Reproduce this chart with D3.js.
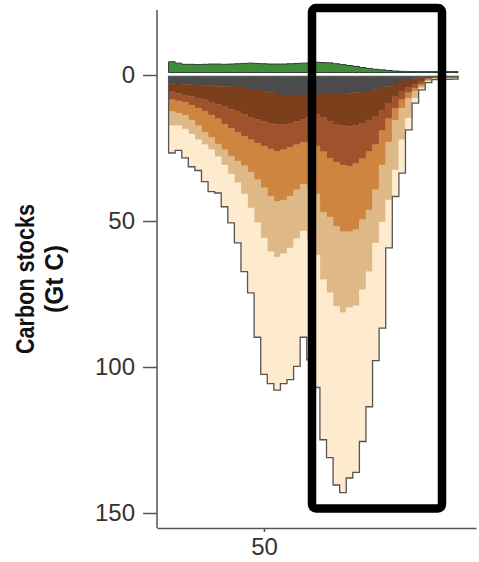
<!DOCTYPE html>
<html>
<head>
<meta charset="utf-8">
<script src="https://cdn.jsdelivr.net/npm/d3@7"></script>
<style>
	body { margin: 0; background: #fff; }
	svg { display: block; }
</style>
</head>
<body>
<div class="wrapper"></div>
<script>

// latitude bins (centres)
var lats = [36, 37, 38, 39, 40, 41, 42, 43, 44, 45, 46, 47, 48, 49, 50, 51, 52, 53, 54, 55, 56, 57,
	58, 59, 60, 61, 62, 63, 64, 65, 66, 67, 68, 69, 70, 71, 72, 73, 74, 75, 76, 77, 78, 79];

// above ground (plotted upward)
var vegetation = [3.7, 3.2, 2.8, 2.8, 2.7, 2.8, 2.9, 2.9, 2.8, 2.9, 3.0, 3.1, 3.2, 3.1, 3.0, 2.9, 2.9, 2.9, 3.0, 3.1,
	3.2, 3.3, 3.5, 3.4, 3.3, 3.0, 2.7, 2.4, 2.1, 1.7, 1.4, 1.1, 0.9, 0.7, 0.5, 0.4, 0.3, 0.3, 0.3, 0.3, 0.3, 0.3, 0.3, 0.3];

// soil layers, top to bottom (plotted downward)
var layer1 = [2.4, 2.6, 2.7, 2.8, 2.9, 3.0, 3.1, 3.3, 3.4, 3.5, 3.6, 3.9, 4.3, 4.6, 5.0, 5.5, 6.0, 6.3, 6.3, 6.3,
	6.3, 6.2, 6.0, 6.0, 6.0, 6.0, 6.0, 5.8, 5.6, 5.3, 5.0, 4.4, 3.9, 3.3, 2.6, 1.9, 1.2, 0.7, 0.3, 0.2, 0.1, 0.1, 0.1, 0.1];
var layer2 = [2.8, 3.2, 3.6, 4.0, 4.5, 5.0, 5.6, 6.3, 7.0, 7.8, 8.5, 9.1, 9.6, 10.1, 10.4, 10.6, 10.4, 10.0, 9.6, 9.1,
	8.4, 7.3, 6.8, 7.9, 9.2, 10.3, 10.9, 11.3, 11.2, 10.6, 9.9, 9.1, 7.6, 5.8, 4.1, 3.1, 2.6, 2.0, 1.2, 0.5, 0.2, 0.1, 0.1, 0.1];
var layer3 = [2.8, 2.6, 2.6, 3.0, 3.4, 3.8, 4.5, 4.9, 5.9, 6.5, 7.1, 7.5, 7.8, 8.2, 8.4, 8.7, 9.3, 8.8, 8.4, 8.0,
	7.9, 8.9, 11.0, 11.9, 12.7, 13.0, 13.4, 13.7, 13.1, 12.3, 10.9, 9.9, 7.1, 5.4, 4.1, 3.0, 1.8, 1.2, 1.1, 0.3, 0.2, 0.1, 0.1, 0.1];
var layer4 = [4.0, 4.1, 4.4, 5.1, 6.1, 7.2, 7.7, 8.6, 8.8, 9.4, 9.7, 10.1, 11.0, 12.5, 14.3, 16.1, 17.1, 17.2, 16.6, 15.4,
	14.2, 15.1, 16.4, 20.6, 20.2, 22.1, 22.9, 22.4, 22.6, 20.9, 19.9, 15.4, 11.7, 7.9, 4.1, 2.8, 1.8, 1.1, 0.7, 0.4, 0.2, 0.3, 0.3, 0.3];
var layer5 = [4.9, 4.4, 4.7, 4.8, 4.8, 4.4, 4.2, 4.4, 5.2, 6.2, 7.5, 9.6, 12.3, 14.7, 17.2, 19.1, 19.0, 18.4, 17.8, 16.8,
	16.1, 18.5, 20.9, 23.2, 26.0, 27.4, 27.7, 26.0, 26.0, 23.9, 21.2, 18.2, 19.5, 19.9, 17.1, 10.9, 6.8, 2.4, 0.6, 0.3, 0.2, 0.2, 0.2, 0.2];
var layer6 = [9.3, 8.4, 9.9, 11.2, 10.5, 12.6, 14.3, 12.4, 14.3, 16.7, 20.6, 26.6, 29.1, 39.2, 46.7, 45.2, 45.6, 44.5, 45.1, 43.7,
	36.4, 41.0, 45.4, 54.8, 56.4, 61.1, 61.6, 58.3, 57.1, 52.0, 46.2, 40.3, 36.4, 16.4, 9.1, 11.4, 4.1, 1.7, 0.7, 0.4, 0.2, 0.2, 0.2, 0.1];

var layerKeys = ["layer1", "layer2", "layer3", "layer4", "layer5", "layer6"];
var layerColors = ["#4b4b4b", "#7b3f1b", "#a0522d", "#cd853f", "#deb887", "#feeacc"];

var yTicks = [0, 50, 100, 150];
var xTicks = [50];

var WIDTH = 479,
	HEIGHT = 562,
	SOIL_SHIFT = 1.5,
	VEG_SHIFT = -2.5;

var svg = d3.select(".wrapper")
	.append("svg")
		.attr("width", WIDTH)
		.attr("height", HEIGHT);

var x = d3.scaleLinear().domain([33.74, 82.22]).range([157, 476]);
var y = d3.scaleLinear().domain([0, 150]).range([75, 513]);

var rows = lats.map(function(lat, i) {
	return {
		lat: lat, layer1: layer1[i], layer2: layer2[i], layer3: layer3[i],
		layer4: layer4[i], layer5: layer5[i], layer6: layer6[i]
	};
});

var series = d3.stack().keys(layerKeys)(rows);

// turn bins into step points: left edge of each bin, plus the right edge of the last
function steps(list) {
	var pts = list.map(function(d) { return {x: d.lat - 0.5, y0: d.y0, y1: d.y1}; });
	var last = list[list.length - 1];
	pts.push({x: last.lat + 0.5, y0: last.y0, y1: last.y1});
	return pts;
}

var area = d3.area()
	.curve(d3.curveStepAfter)
	.x(function(d) { return x(d.x); })
	.y0(function(d) { return y(d.y0); })
	.y1(function(d) { return y(d.y1); });

// soil
var soil = svg.append("g").attr("transform", "translate(0," + SOIL_SHIFT + ")");

soil.selectAll("path.layer")
	.data(series)
	.enter()
	.append("path")
		.attr("class", "layer")
		.attr("fill", function(d, i) { return layerColors[i]; })
		.attr("stroke", function(d, i) { return layerColors[i]; })
		.attr("stroke-width", 0.4)
		.attr("d", function(s) {
			return area(steps(s.map(function(d, i) {
				return {lat: lats[i], y0: d[0], y1: d[1]};
			})));
		});

var deepest = series[series.length - 1];
soil.append("path")
	.attr("fill", "none")
	.attr("stroke", "#555")
	.attr("stroke-width", 1.3)
	.attr("d", area(steps(deepest.map(function(d, i) {
		return {lat: lats[i], y0: 0, y1: d[1]};
	}))));

// vegetation
svg.append("g")
	.attr("transform", "translate(0," + VEG_SHIFT + ")")
	.append("path")
		.attr("fill", "#3f8d3a")
		.attr("stroke", "#2f3b2f")
		.attr("stroke-width", 1)
		.attr("d", area(steps(vegetation.map(function(v, i) {
			return {lat: lats[i], y0: 0, y1: -v};
		}))));

// axes
var yAxis = svg.append("g")
	.attr("transform", "translate(157,0)")
	.call(d3.axisLeft(y).tickValues(yTicks).tickSize(14).tickPadding(8));
yAxis.select(".domain").remove();

svg.append("line")
	.attr("x1", 157).attr("x2", 157)
	.attr("y1", 10).attr("y2", 528)
	.attr("stroke", "#555")
	.attr("stroke-width", 1.5);

var xAxis = svg.append("g")
	.attr("transform", "translate(0,528)")
	.call(d3.axisBottom(x).tickValues(xTicks).tickSize(4).tickSizeOuter(0).tickPadding(6));

svg.selectAll(".tick line, .domain")
	.attr("stroke", "#555")
	.attr("stroke-width", 1.5);

svg.selectAll(".tick text")
	.attr("fill", "#333")
	.style("font-family", "'Liberation Sans', Arial, sans-serif")
	.style("font-size", "24px");

// y title (condensed look via textLength)
var title = svg.append("text")
	.attr("transform", "translate(0,279) rotate(-90)")
	.attr("text-anchor", "middle")
	.style("font-family", "'Liberation Sans', Arial, sans-serif")
	.style("font-weight", "bold")
	.style("font-size", "25px")
	.attr("fill", "#111");

title.append("tspan").attr("x", 0).attr("y", 34)
	.attr("textLength", 150).attr("lengthAdjust", "spacingAndGlyphs")
	.text("Carbon stocks");
title.append("tspan").attr("x", 0).attr("y", 63)
	.attr("textLength", 68).attr("lengthAdjust", "spacingAndGlyphs")
	.text("(Gt C)");

// highlight box
svg.append("rect")
	.attr("x", 312)
	.attr("y", 8)
	.attr("width", 130)
	.attr("height", 500.5)
	.attr("rx", 4)
	.attr("fill", "none")
	.attr("stroke", "#000")
	.attr("stroke-width", 8.5);

</script>
</body>
</html>
